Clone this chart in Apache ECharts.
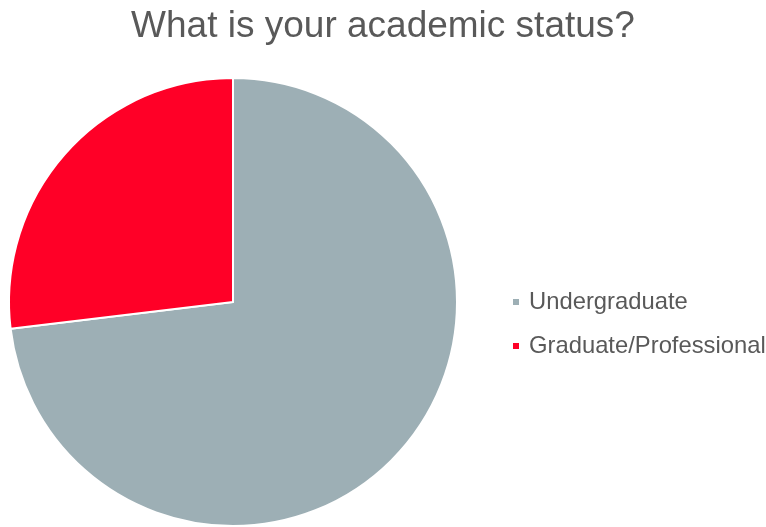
<!DOCTYPE html>
<html>
<head>
<meta charset="utf-8">
<script src="https://cdn.jsdelivr.net/npm/echarts@6/dist/echarts.min.js"></script>
<style>
  html, body { margin: 0; padding: 0; background: #fff; }
  #chart { width: 766px; height: 527px; }
</style>
</head>
<body>
<div id="chart"></div>
<script>
let titleText = 'What is your academic status?';
let categories = ['Undergraduate', 'Graduate/Professional'];
let shares = [73.1, 26.9];
let colors = ['#9DAFB5', '#FF0027'];

let chart = echarts.init(document.getElementById('chart'));

let pieData = [];
for (let i = 0; i < categories.length; i++) {
  pieData.push({
    name: categories[i],
    value: shares[i],
    itemStyle: { color: colors[i] }
  });
}

let option = {
  animation: false,
  title: {
    text: titleText,
    left: 'center',
    top: 3,
    textStyle: {
      fontFamily: 'Liberation Sans, Arial, sans-serif',
      fontSize: 37,
      fontWeight: 'normal',
      color: '#595959'
    }
  },
  legend: {
    orient: 'vertical',
    left: 511,
    top: 290,
    padding: 0,
    icon: 'rect',
    itemWidth: 8,
    itemHeight: 8,
    itemGap: 20,
    textStyle: {
      fontFamily: 'Liberation Sans, Arial, sans-serif',
      fontSize: 23.8,
      lineHeight: 24,
      color: '#595959',
      padding: [0, 0, 0, 4]
    },
    data: categories
  },
  series: [{
    type: 'pie',
    center: [233, 302],
    radius: 224,
    startAngle: 90,
    clockwise: true,
    label: { show: false },
    labelLine: { show: false },
    emphasis: { disabled: true },
    itemStyle: { borderColor: '#fff', borderWidth: 2 },
    data: pieData
  }]
};

chart.setOption(option);
</script>
</body>
</html>
